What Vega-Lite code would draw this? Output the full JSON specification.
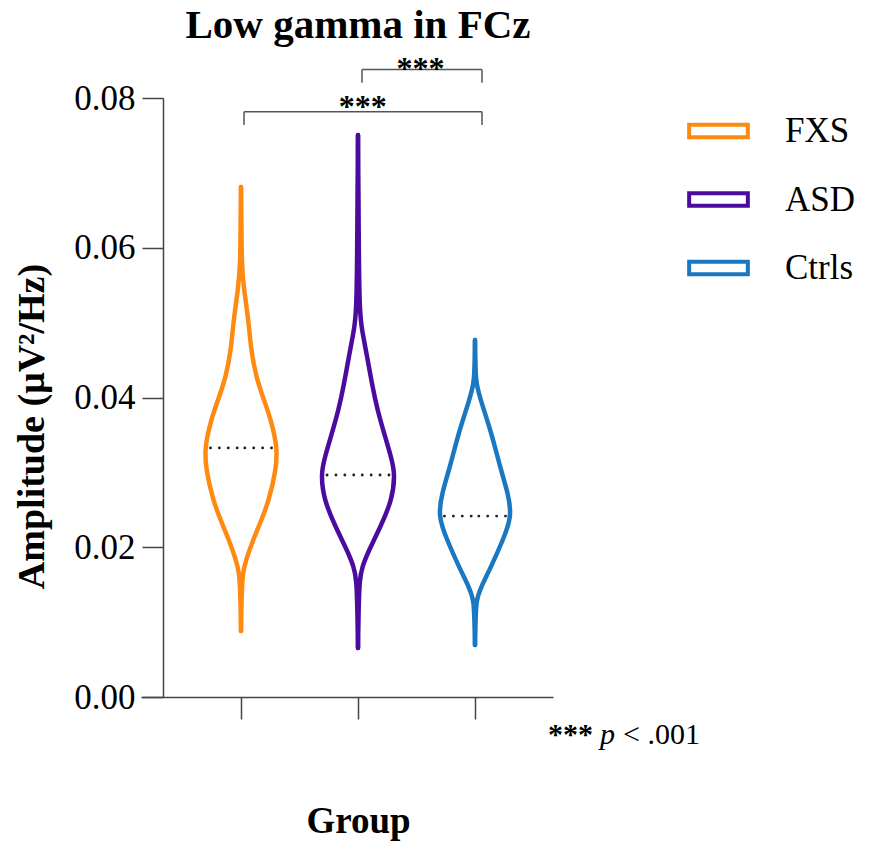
{
  "$schema": "https://vega.github.io/schema/vega-lite/v6.json",
  "width": 412,
  "height": 599,
  "autosize": "none",
  "padding": {"left": 141, "top": 98, "right": 343, "bottom": 153},
  "title": {
    "text": "Low gamma in FCz",
    "font": "Liberation Serif",
    "fontSize": 41,
    "fontWeight": "bold",
    "color": "#000000",
    "anchor": "middle",
    "dx": 11,
    "dy": -2
  },
  "datasets": {
    "violin": [
      {"group": "FXS", "amplitude": 0.06811, "density": 0.0},
      {"group": "FXS", "amplitude": 0.06438, "density": 0.011},
      {"group": "FXS", "amplitude": 0.05770, "density": 0.016},
      {"group": "FXS", "amplitude": 0.05436, "density": 0.082},
      {"group": "FXS", "amplitude": 0.05035, "density": 0.205},
      {"group": "FXS", "amplitude": 0.04634, "density": 0.274},
      {"group": "FXS", "amplitude": 0.04274, "density": 0.411},
      {"group": "FXS", "amplitude": 0.03927, "density": 0.658},
      {"group": "FXS", "amplitude": 0.03700, "density": 0.822},
      {"group": "FXS", "amplitude": 0.03326, "density": 1.0},
      {"group": "FXS", "amplitude": 0.03032, "density": 0.959},
      {"group": "FXS", "amplitude": 0.02631, "density": 0.767},
      {"group": "FXS", "amplitude": 0.02364, "density": 0.562},
      {"group": "FXS", "amplitude": 0.02097, "density": 0.329},
      {"group": "FXS", "amplitude": 0.01830, "density": 0.137},
      {"group": "FXS", "amplitude": 0.01656, "density": 0.041},
      {"group": "FXS", "amplitude": 0.01296, "density": 0.014},
      {"group": "FXS", "amplitude": 0.00882, "density": 0.0},
      {"group": "ASD", "amplitude": 0.07506, "density": 0.0},
      {"group": "ASD", "amplitude": 0.06638, "density": 0.014},
      {"group": "ASD", "amplitude": 0.05970, "density": 0.022},
      {"group": "ASD", "amplitude": 0.05129, "density": 0.041},
      {"group": "ASD", "amplitude": 0.04862, "density": 0.123},
      {"group": "ASD", "amplitude": 0.04594, "density": 0.233},
      {"group": "ASD", "amplitude": 0.04140, "density": 0.397},
      {"group": "ASD", "amplitude": 0.03833, "density": 0.534},
      {"group": "ASD", "amplitude": 0.03526, "density": 0.712},
      {"group": "ASD", "amplitude": 0.03165, "density": 0.932},
      {"group": "ASD", "amplitude": 0.02965, "density": 1.014},
      {"group": "ASD", "amplitude": 0.02631, "density": 0.932},
      {"group": "ASD", "amplitude": 0.02271, "density": 0.616},
      {"group": "ASD", "amplitude": 0.01963, "density": 0.301},
      {"group": "ASD", "amplitude": 0.01736, "density": 0.110},
      {"group": "ASD", "amplitude": 0.01563, "density": 0.041},
      {"group": "ASD", "amplitude": 0.01162, "density": 0.016},
      {"group": "ASD", "amplitude": 0.00654, "density": 0.0},
      {"group": "Ctrls", "amplitude": 0.04768, "density": 0.0},
      {"group": "Ctrls", "amplitude": 0.04367, "density": 0.014},
      {"group": "Ctrls", "amplitude": 0.04194, "density": 0.033},
      {"group": "Ctrls", "amplitude": 0.03967, "density": 0.151},
      {"group": "Ctrls", "amplitude": 0.03526, "density": 0.452},
      {"group": "Ctrls", "amplitude": 0.03072, "density": 0.685},
      {"group": "Ctrls", "amplitude": 0.02725, "density": 0.904},
      {"group": "Ctrls", "amplitude": 0.02417, "density": 1.014},
      {"group": "Ctrls", "amplitude": 0.02097, "density": 0.767},
      {"group": "Ctrls", "amplitude": 0.01736, "density": 0.438},
      {"group": "Ctrls", "amplitude": 0.01469, "density": 0.164},
      {"group": "Ctrls", "amplitude": 0.01296, "density": 0.033},
      {"group": "Ctrls", "amplitude": 0.01028, "density": 0.016},
      {"group": "Ctrls", "amplitude": 0.00695, "density": 0.0}
    ],
    "medians": [
      {"group": "FXS", "amplitude": 0.03326, "density": 0.986},
      {"group": "ASD", "amplitude": 0.02965, "density": 1.0},
      {"group": "Ctrls", "amplitude": 0.02417, "density": 0.986}
    ],
    "comparisons": [
      {"from": "FXS", "to": "Ctrls", "sig": "***"},
      {"from": "ASD", "to": "Ctrls", "sig": "***"}
    ],
    "note": [
      {"stars": "***", "p": "p", "threshold": "< .001"}
    ]
  },
  "layer": [
    {
      "data": {"name": "violin"},
      "mark": {"type": "line", "strokeWidth": 4.5, "interpolate": "basis", "strokeCap": "round", "strokeJoin": "round"},
      "encoding": {
        "x": {
          "field": "group", "type": "nominal",
          "scale": {"type": "point", "domain": ["FXS", "ASD", "Ctrls"], "padding": 0.7607, "align": 0.5618},
          "axis": {
            "labels": false, "tickSize": 22, "tickWidth": 1.5, "tickColor": "#444444",
            "domainColor": "#444444", "domainWidth": 1.5, "grid": false,
            "title": "Group", "titleFont": "Liberation Serif", "titleFontSize": 37,
            "titleFontWeight": "bold", "titleColor": "#000000", "titlePadding": 84, "titleX": 217
          }
        },
        "xOffset": {"field": "density", "type": "quantitative", "scale": {"domain": [0, 1], "range": [0, 36.5]}},
        "y": {
          "field": "amplitude", "type": "quantitative",
          "scale": {"domain": [0, 0.08], "nice": false, "zero": true},
          "axis": {
            "values": [0, 0.02, 0.04, 0.06, 0.08], "format": ".2f", "grid": false,
            "offset": -22, "tickSize": 21, "tickWidth": 1.5, "tickColor": "#444444",
            "domainColor": "#444444", "domainWidth": 1.5,
            "labelFont": "Liberation Serif", "labelFontSize": 35, "labelColor": "#000000", "labelPadding": 7,
            "title": "Amplitude (μV²/Hz)", "titleFont": "Liberation Serif", "titleFontSize": 38,
            "titleFontWeight": "bold", "titleColor": "#000000", "titlePadding": 22, "titleY": 328
          }
        },
        "color": {
          "field": "group", "type": "nominal",
          "scale": {"domain": ["FXS", "ASD", "Ctrls"], "range": ["#FF8A12", "#4B0B9E", "#1A78C2"]},
          "legend": {
            "title": null, "orient": "none", "legendX": 546, "legendY": 1.5,
            "symbolType": "M-1,-0.216H1V0.216H-1Z", "symbolSize": 3446, "symbolStrokeWidth": 4,
            "labelFont": "Liberation Serif", "labelFontSize": 35, "labelColor": "#000000",
            "labelOffset": 35, "rowPadding": 18.5, "padding": 0,
            "encode": {"symbols": {"update": {"fill": {"value": "#ffffff"}, "strokeWidth": {"value": 4}}}}
          }
        },
        "order": {"field": "amplitude", "type": "quantitative"}
      }
    },
    {
      "data": {"name": "violin"},
      "mark": {"type": "line", "strokeWidth": 4.5, "interpolate": "basis", "strokeCap": "round", "strokeJoin": "round"},
      "encoding": {
        "x": {"field": "group", "type": "nominal"},
        "xOffset": {"field": "density", "type": "quantitative", "scale": {"domain": [0, 1], "range": [0, -36.5]}},
        "y": {"field": "amplitude", "type": "quantitative"},
        "color": {"field": "group", "type": "nominal"},
        "order": {"field": "amplitude", "type": "quantitative"}
      }
    },
    {
      "data": {"name": "medians"},
      "mark": {"type": "rule", "strokeWidth": 2.8, "strokeDash": [0.1, 8.8], "strokeCap": "round", "color": "#222222"},
      "encoding": {
        "x": {"field": "group", "type": "nominal"},
        "xOffset": {"field": "density", "type": "quantitative", "scale": {"domain": [0, 1], "range": [0, 31]}},
        "x2": {"field": "group"},
        "y": {"field": "amplitude", "type": "quantitative"}
      }
    },
    {
      "data": {"name": "medians"},
      "mark": {"type": "rule", "strokeWidth": 2.8, "strokeDash": [0.1, 8.8], "strokeCap": "round", "color": "#222222"},
      "encoding": {
        "x": {"field": "group", "type": "nominal"},
        "xOffset": {"field": "density", "type": "quantitative", "scale": {"domain": [0, 1], "range": [0, -31]}},
        "x2": {"field": "group"},
        "y": {"field": "amplitude", "type": "quantitative"}
      }
    },
    {
      "data": {"name": "comparisons"},
      "transform": [{"filter": "datum.from === 'FXS'"}],
      "mark": {"type": "rule", "strokeWidth": 1.5, "color": "#555555", "xOffset": 3, "x2Offset": 7},
      "encoding": {
        "x": {"field": "from", "type": "nominal"},
        "x2": {"field": "to"},
        "y": {"datum": 0.07817, "type": "quantitative"}
      }
    },
    {
      "data": {"name": "comparisons"},
      "transform": [{"filter": "datum.from === 'FXS'"}],
      "mark": {"type": "rule", "strokeWidth": 1.5, "color": "#555555", "xOffset": 3},
      "encoding": {
        "x": {"field": "from", "type": "nominal"},
        "y": {"datum": 0.07817, "type": "quantitative"},
        "y2": {"datum": 0.0764}
      }
    },
    {
      "data": {"name": "comparisons"},
      "transform": [{"filter": "datum.from === 'FXS'"}],
      "mark": {"type": "rule", "strokeWidth": 1.5, "color": "#555555", "xOffset": 7},
      "encoding": {
        "x": {"field": "to", "type": "nominal"},
        "y": {"datum": 0.07817, "type": "quantitative"},
        "y2": {"datum": 0.0764}
      }
    },
    {
      "data": {"name": "comparisons"},
      "transform": [{"filter": "datum.from === 'FXS'"}],
      "mark": {"type": "text", "font": "Liberation Serif", "fontSize": 32, "fontWeight": "bold", "color": "#000000", "align": "center", "baseline": "alphabetic", "dx": 4.7},
      "encoding": {
        "x": {"datum": "ASD", "type": "nominal"},
        "y": {"datum": 0.0774, "type": "quantitative"},
        "text": {"field": "sig"}
      }
    },
    {
      "data": {"name": "comparisons"},
      "transform": [{"filter": "datum.from === 'ASD'"}],
      "mark": {"type": "rule", "strokeWidth": 1.5, "color": "#555555", "xOffset": 4, "x2Offset": 7},
      "encoding": {
        "x": {"field": "from", "type": "nominal"},
        "x2": {"field": "to"},
        "y": {"datum": 0.08381, "type": "quantitative"}
      }
    },
    {
      "data": {"name": "comparisons"},
      "transform": [{"filter": "datum.from === 'ASD'"}],
      "mark": {"type": "rule", "strokeWidth": 1.5, "color": "#555555", "xOffset": 4},
      "encoding": {
        "x": {"field": "from", "type": "nominal"},
        "y": {"datum": 0.08381, "type": "quantitative"},
        "y2": {"datum": 0.08205}
      }
    },
    {
      "data": {"name": "comparisons"},
      "transform": [{"filter": "datum.from === 'ASD'"}],
      "mark": {"type": "rule", "strokeWidth": 1.5, "color": "#555555", "xOffset": 7},
      "encoding": {
        "x": {"field": "to", "type": "nominal"},
        "y": {"datum": 0.08381, "type": "quantitative"},
        "y2": {"datum": 0.08205}
      }
    },
    {
      "data": {"name": "comparisons"},
      "transform": [{"filter": "datum.from === 'ASD'"}],
      "mark": {"type": "text", "font": "Liberation Serif", "fontSize": 32, "fontWeight": "bold", "color": "#000000", "align": "center", "baseline": "alphabetic", "dx": 62.5},
      "encoding": {
        "x": {"datum": "ASD", "type": "nominal"},
        "y": {"datum": 0.0826, "type": "quantitative"},
        "text": {"field": "sig"}
      }
    },
    {
      "data": {"name": "note"},
      "mark": {"type": "text", "font": "Liberation Serif", "fontSize": 30, "fontWeight": "bold", "color": "#000000", "align": "left", "baseline": "alphabetic", "dx": 73},
      "encoding": {
        "x": {"datum": "Ctrls", "type": "nominal"},
        "y": {"datum": -0.00628, "type": "quantitative"},
        "text": {"field": "stars"}
      }
    },
    {
      "data": {"name": "note"},
      "mark": {"type": "text", "font": "Liberation Serif", "fontSize": 30, "fontStyle": "italic", "color": "#000000", "align": "left", "baseline": "alphabetic", "dx": 125},
      "encoding": {
        "x": {"datum": "Ctrls", "type": "nominal"},
        "y": {"datum": -0.00628, "type": "quantitative"},
        "text": {"field": "p"}
      }
    },
    {
      "data": {"name": "note"},
      "mark": {"type": "text", "font": "Liberation Serif", "fontSize": 30, "color": "#000000", "align": "left", "baseline": "alphabetic", "dx": 148},
      "encoding": {
        "x": {"datum": "Ctrls", "type": "nominal"},
        "y": {"datum": -0.00628, "type": "quantitative"},
        "text": {"field": "threshold"}
      }
    }
  ],
  "resolve": {"scale": {"xOffset": "independent"}},
  "config": {
    "font": "Liberation Serif",
    "view": {"stroke": null}
  }
}
